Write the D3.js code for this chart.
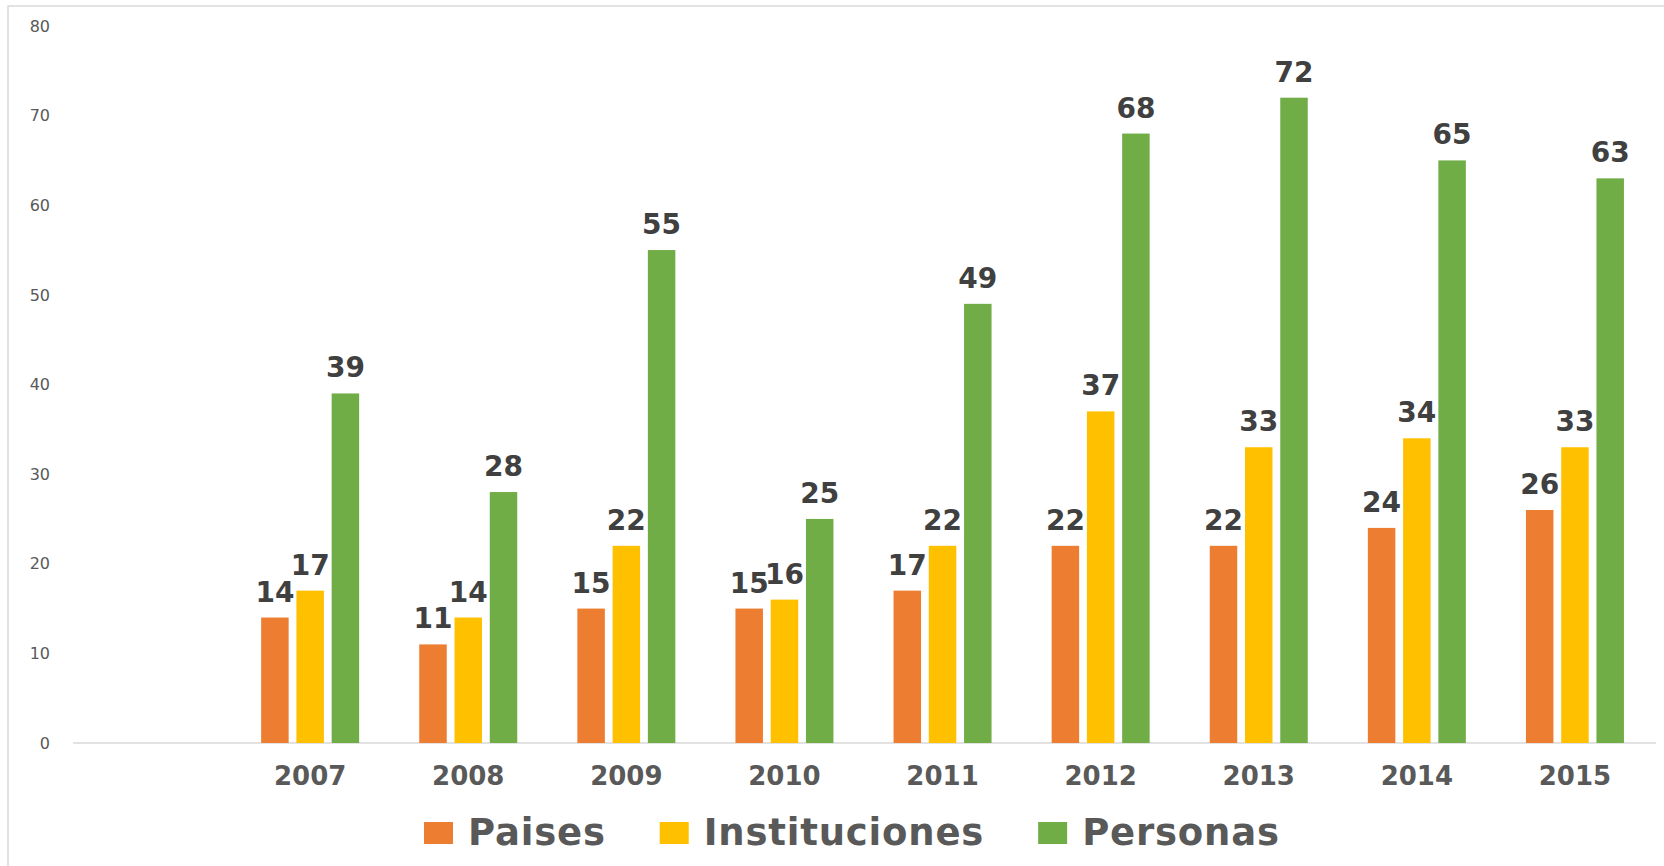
<!DOCTYPE html>
<html>
<head>
<meta charset="utf-8">
<script src="https://cdn.jsdelivr.net/npm/d3@7"></script>
<style>
  body { margin: 0; background: #fff; }
  svg { display: block; }
</style>
</head>
<body>
<div id="chart"></div>
<script>
var years = ["2007", "2008", "2009", "2010", "2011", "2012", "2013", "2014", "2015"]
var series_names = ["Paises", "Instituciones", "Personas"]
var paises = [14, 11, 15, 15, 17, 22, 22, 24, 26]
var instituciones = [17, 14, 22, 16, 22, 37, 33, 34, 33]
var personas = [39, 28, 55, 25, 49, 68, 72, 65, 63]
var y_ticks = [0, 10, 20, 30, 40, 50, 60, 70, 80]
var colors = ["#ED7D31", "#FFC000", "#70AD47"]

var width = 1664, height = 866
var svg = d3.select("#chart").append("svg").attr("width", width).attr("height", height)

// chart border (only top and left show in the picture)
svg.append("rect").attr("x", 8).attr("y", 6).attr("width", width + 20).attr("height", height + 20)
    .attr("fill", "none").attr("stroke", "#d9d9d9").attr("stroke-width", 1.5)

// first slot on the axis is empty
var x = d3.scaleBand().domain([""].concat(years)).range([73, 1654]).paddingInner(0).paddingOuter(0)
var xs = d3.scaleBand().domain(series_names).range([-49, 49]).paddingInner(0.22).paddingOuter(0)
var y = d3.scaleLinear().domain([0, 80]).range([743, 26])

// y axis labels
var yAxis = d3.axisLeft(y).tickValues(y_ticks).tickSize(0).tickPadding(0)
var gy = svg.append("g").attr("transform", "translate(50,0)").call(yAxis)
gy.select(".domain").remove()
gy.selectAll("text").attr("font-family", "DejaVu Sans").attr("font-size", 16).attr("fill", "#595959")

// baseline
svg.append("line").attr("x1", 73).attr("x2", 1656).attr("y1", y(0)).attr("y2", y(0))
    .attr("stroke", "#d9d9d9").attr("stroke-width", 1.5)

// x axis labels
var xAxis = d3.axisBottom(x).tickValues(years).tickSize(0).tickPadding(0)
var gx = svg.append("g").attr("transform", "translate(0," + y(0) + ")").call(xAxis)
gx.select(".domain").remove()
gx.selectAll("text").attr("font-family", "DejaVu Sans").attr("font-weight", "bold")
    .attr("font-size", 26).attr("fill", "#595959").attr("dy", null).attr("y", 42)

var all_series = [paises, instituciones, personas]
all_series.forEach(function(vals, si){
    var name = series_names[si]
    var rows = years.map(function(yr, i){ return {year: yr, value: vals[i]} })
    var g = svg.append("g")
    g.selectAll("rect").data(rows).enter().append("rect")
        .attr("x", function(d){ return x(d.year) + x.bandwidth() / 2 + xs(name) })
        .attr("width", xs.bandwidth())
        .attr("y", function(d){ return y(d.value) })
        .attr("height", function(d){ return y(0) - y(d.value) })
        .attr("fill", colors[si])
    g.selectAll("text").data(rows).enter().append("text")
        .attr("x", function(d){ return x(d.year) + x.bandwidth() / 2 + xs(name) + xs.bandwidth() / 2 })
        .attr("y", function(d){ return y(d.value) - 16 })
        .attr("text-anchor", "middle")
        .attr("font-family", "DejaVu Sans").attr("font-weight", "bold").attr("font-size", 28)
        .attr("fill", "#404040")
        .text(function(d){ return d.value })
})

// legend
var legend = svg.append("g")
var lx = 424
series_names.forEach(function(name, i){
    legend.append("rect").attr("x", lx).attr("y", 822).attr("width", 29).attr("height", 22).attr("fill", colors[i])
    var t = legend.append("text").attr("x", lx + 44).attr("y", 845)
        .attr("font-family", "DejaVu Sans").attr("font-weight", "bold").attr("font-size", 37)
        .attr("letter-spacing", 0.8)
        .attr("fill", "#595959").text(name)
    lx = lx + 44 + t.node().getComputedTextLength() + 54
})
</script>
</body>
</html>
